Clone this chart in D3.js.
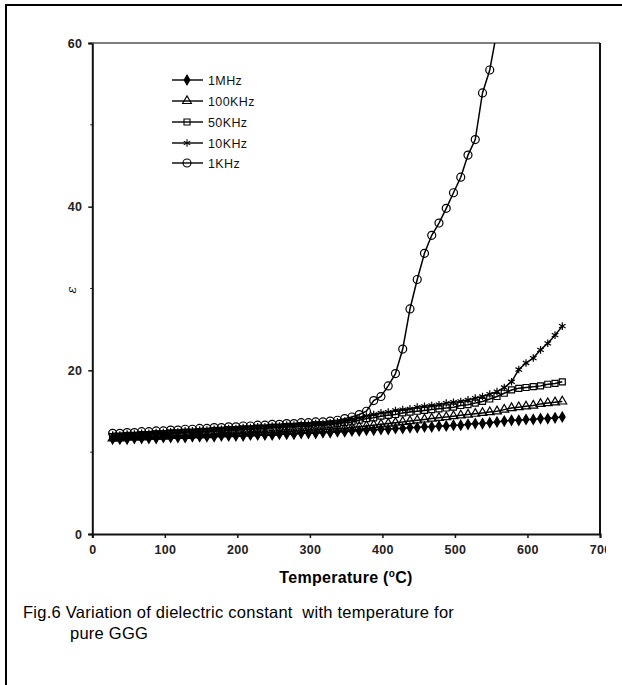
<!DOCTYPE html>
<html><head><meta charset="utf-8">
<script src="https://cdn.jsdelivr.net/npm/d3@7"></script>
<style>body{margin:0;background:#fff}svg{display:block}</style>
</head><body>
<svg id="c" width="622" height="685"></svg>
<script>
const temps = [28,38,48,58,68,78,88,98,108,118,128,138,148,158,168,178,188,198,208,218,228,238,248,258,268,278,288,298,308,318,328,338,348,358,368,378,388,398,408,418,428,438,448,458,468,478,488,498,508,518,528,538,548,558,568,578,588,598,608,618,628,638,648];
const seriesNames = ["1MHz","100KHz","50KHz","10KHz","1KHz"];
const v1MHz = [11.6,11.6,11.6,11.7,11.7,11.7,11.7,11.8,11.8,11.8,11.8,11.9,11.9,11.9,11.9,12.0,12.0,12.0,12.0,12.1,12.1,12.1,12.1,12.2,12.2,12.2,12.3,12.3,12.3,12.4,12.4,12.5,12.5,12.6,12.6,12.7,12.7,12.8,12.8,12.9,12.9,13.0,13.0,13.1,13.1,13.2,13.2,13.3,13.3,13.4,13.5,13.5,13.6,13.7,13.8,13.9,13.9,14.0,14.0,14.1,14.1,14.2,14.3];
const v100KHz = [11.7,11.7,11.8,11.8,11.8,11.9,11.9,11.9,12.0,12.0,12.0,12.1,12.1,12.1,12.2,12.2,12.2,12.3,12.3,12.3,12.4,12.4,12.4,12.5,12.5,12.6,12.6,12.7,12.7,12.8,12.8,12.9,12.9,13.0,13.1,13.2,13.3,13.4,13.5,13.6,13.7,13.8,13.9,14.0,14.1,14.2,14.3,14.4,14.5,14.6,14.7,14.8,14.9,15.0,15.2,15.4,15.5,15.6,15.7,15.9,16.0,16.1,16.2];
const v50KHz = [11.9,11.9,12.0,12.0,12.1,12.1,12.2,12.2,12.3,12.3,12.4,12.4,12.5,12.5,12.6,12.6,12.7,12.7,12.8,12.8,12.9,12.9,13.0,13.0,13.1,13.1,13.2,13.2,13.3,13.3,13.4,13.5,13.6,13.7,13.9,14.1,14.2,14.4,14.5,14.6,14.8,14.9,15.0,15.1,15.2,15.3,15.4,15.5,15.7,15.8,16.0,16.2,16.5,16.8,17.2,17.6,17.8,17.9,18.0,18.1,18.3,18.4,18.6];
const v10KHz = [12.1,12.1,12.2,12.2,12.3,12.3,12.4,12.4,12.5,12.5,12.6,12.6,12.7,12.7,12.8,12.8,12.9,12.9,13.0,13.0,13.1,13.1,13.2,13.2,13.3,13.3,13.4,13.4,13.5,13.5,13.6,13.7,13.8,14.0,14.2,14.4,14.6,14.8,14.9,15.1,15.2,15.3,15.5,15.6,15.7,15.8,16.0,16.1,16.2,16.4,16.6,16.8,17.1,17.4,17.9,18.6,20.1,20.9,21.5,22.5,23.3,24.3,25.4];
const v1KHz = [12.3,12.3,12.4,12.4,12.5,12.5,12.6,12.6,12.7,12.7,12.8,12.8,12.9,12.9,13.0,13.0,13.1,13.1,13.2,13.2,13.3,13.3,13.4,13.4,13.5,13.5,13.6,13.6,13.7,13.7,13.8,13.9,14.1,14.3,14.6,15.0,16.3,16.8,18.1,19.6,22.6,27.5,31.1,34.3,36.5,38.0,39.8,41.7,43.6,46.3,48.2,53.9,56.7,61.5];
const xTicks = [0,100,200,300,400,500,600,700];
const yTicks = [0,20,40,60];

const svg = d3.select("#c");
const font = "'Liberation Sans', Arial, sans-serif";
const x = d3.scaleLinear().domain([0,700]).range([92.3,600]);
const y = d3.scaleLinear().domain([0,60]).range([534,43]);

// outer frame (left & top)
svg.append("path").attr("d","M6,685 V5 H622").attr("fill","none").attr("stroke","#000").attr("stroke-width",2);

const defs = svg.append("defs");
defs.append("clipPath").attr("id","pc").append("rect")
  .attr("x",x(0)).attr("y",y(60)).attr("width",x(700)-x(0)).attr("height",y(0)-y(60));
// the scanned source image is cut off on the right, just after the axis end
defs.append("clipPath").attr("id","img").append("rect")
  .attr("x",0).attr("y",0).attr("width",606).attr("height",685);

const chart = svg.append("g").attr("clip-path","url(#img)");

// axes
const gx = chart.append("g").attr("transform",`translate(0,${y(0)})`)
  .call(d3.axisBottom(x).tickValues(xTicks).tickSize(4).tickPadding(7).tickFormat(d3.format("d")));
const gy = chart.append("g").attr("transform",`translate(${x(0)},0)`)
  .call(d3.axisLeft(y).tickValues(yTicks).tickSize(4).tickPadding(6).tickFormat(d3.format("d")));
[gx,gy].forEach(g=>{
  g.select(".domain").attr("stroke","#111").attr("stroke-width",2);
  g.selectAll(".tick line").attr("stroke","#111").attr("stroke-width",1.5);
  g.selectAll(".tick text").attr("font-family",font).attr("font-size",12.5).attr("fill","#222")
    .attr("font-weight","bold").attr("letter-spacing",0.3);
});
// minor ticks
chart.append("g").selectAll("line").data([10,30,50]).join("line")
  .attr("x1",x(0)-2).attr("x2",x(0)).attr("y1",d=>y(d)).attr("y2",d=>y(d)).attr("stroke","#111");
// top & right frame
chart.append("line").attr("x1",x(0)).attr("x2",x(700)).attr("y1",y(60)).attr("y2",y(60)).attr("stroke","#555").attr("stroke-width",1.5);
chart.append("line").attr("x1",x(700)).attr("x2",x(700)).attr("y1",y(60)).attr("y2",y(0)).attr("stroke","#111").attr("stroke-width",2);

// axis titles
const tt = chart.append("text").attr("x",346).attr("y",583).attr("text-anchor","middle")
  .attr("font-family",font).attr("font-size",16).attr("font-weight","bold").attr("letter-spacing",0.3);
tt.append("tspan").text("Temperature (");
tt.append("tspan").text("o").attr("font-size",10).attr("dy",-6);
tt.append("tspan").text("C)").attr("dy",6);
chart.append("text").attr("transform","translate(76,290) rotate(-90)").attr("text-anchor","middle")
  .attr("font-family","'DejaVu Serif', serif").attr("font-style","italic").attr("font-size",13).text("ε");

// series
const data = [v1MHz,v100KHz,v50KHz,v10KHz,v1KHz];
const syms = [
  {t:d3.symbolDiamond,s:28,fill:"#000"},
  {t:d3.symbolTriangle,s:34,fill:"none"},
  {t:d3.symbolSquare,s:36,fill:"none"},
  {t:d3.symbolAsterisk,s:40,fill:"none"},
  {t:d3.symbolCircle,s:50,fill:"none"}
];
const line = d3.line().x(d=>x(d[0])).y(d=>y(d[1]));
const plot = chart.append("g").attr("clip-path","url(#pc)");
data.forEach((vals,i)=>{
  const pts = vals.map((v,j)=>[temps[j],v]);
  plot.append("path").datum(pts).attr("d",line).attr("fill","none").attr("stroke","#000").attr("stroke-width",1.5);
  plot.append("g").selectAll("path").data(pts).join("path")
    .attr("transform",d=>`translate(${x(d[0])},${y(d[1])})`)
    .attr("d",d3.symbol().type(syms[i].t).size(syms[i].s))
    .attr("fill",syms[i].fill).attr("stroke","#000").attr("stroke-width",1.2);
});

// legend
const lg = chart.append("g");
const rowsY = [80,101,122,143,163];
seriesNames.forEach((n,i)=>{
  const g = lg.append("g").attr("transform",`translate(0,${rowsY[i]})`);
  g.append("line").attr("x1",172).attr("x2",203).attr("stroke","#000").attr("stroke-width",1.4);
  g.append("path").attr("transform","translate(187,0)").attr("d",d3.symbol().type(syms[i].t).size(syms[i].s))
    .attr("fill",syms[i].fill).attr("stroke","#000").attr("stroke-width",1.1);
  g.append("text").attr("x",208).attr("y",4.5).attr("font-family",font).attr("font-size",12.5)
    .attr("letter-spacing",0.4).attr("fill","#111").text(n);
});

// caption
svg.append("text").attr("x",23).attr("y",618).attr("font-family",font).attr("font-size",16.5).attr("letter-spacing",0.25)
  .attr("xml:space","preserve").text("Fig.6 Variation of dielectric constant  with temperature for");
svg.append("text").attr("x",70).attr("y",639).attr("font-family",font).attr("font-size",16.5).attr("letter-spacing",0.25)
  .text("pure GGG");
</script>
</body></html>
